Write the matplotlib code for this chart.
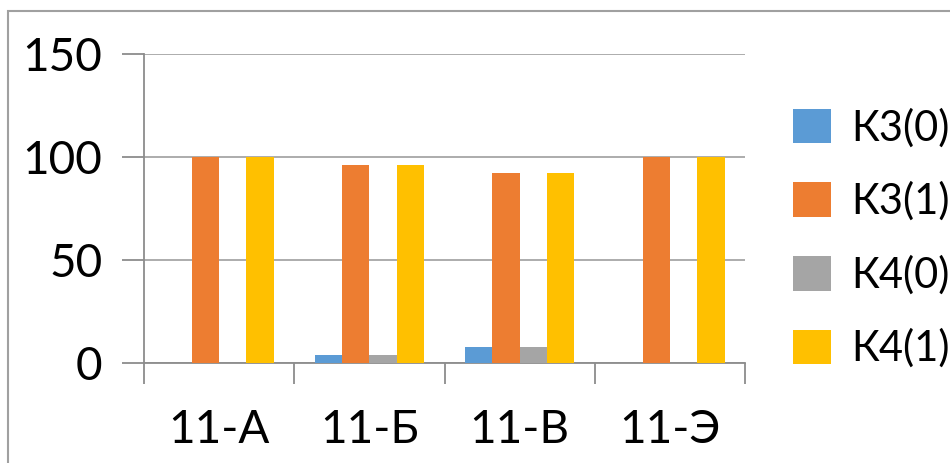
import matplotlib.pyplot as plt
import numpy as np
from matplotlib.patches import Rectangle

# dados
classes = ['11-А', '11-Б', '11-В', '11-Э']
series = ['К3(0)', 'К3(1)', 'К4(0)', 'К4(1)']
k3_0 = [0, 4, 8, 0]
k3_1 = [100, 96, 92, 100]
k4_0 = [0, 4, 8, 0]
k4_1 = [100, 96, 92, 100]
cores = ['#5b9bd5', '#ed7d31', '#a5a5a5', '#ffc000']

plt.rcParams['font.family'] = ['Lato', 'DejaVu Sans']

fig = plt.figure(figsize=(9.5, 4.63), dpi=100)
ax = fig.add_axes([144/950, 1 - 363/463, (745-144)/950, (363-54)/463])

x = np.arange(len(classes))
w = 0.182
valores = [k3_0, k3_1, k4_0, k4_1]
for i, (v, nome, c) in enumerate(zip(valores, series, cores)):
    ax.bar(x + (i - 1.5) * w, v, width=w, color=c, label=nome, zorder=3)

ax.set_xlim(-0.5, len(classes) - 0.5)
ax.set_ylim(0, 150)
ax.set_yticks([0, 50, 100, 150])
ax.set_xticks(x)
ax.set_xticklabels(classes)
ax.set_xticks(np.arange(-0.5, len(classes)), minor=True)
ax.tick_params(axis='x', which='major', length=0, labelsize=33, pad=33)
ax.tick_params(axis='x', which='minor', length=15, width=1.3, color='#8c8c8c')
ax.tick_params(axis='y', length=16, width=1.3, color='#8c8c8c', labelsize=33, pad=14)
ax.grid(axis='y', color='#a6a6a6', linewidth=1.3, zorder=0)
for s in ['top', 'right']:
    ax.spines[s].set_visible(False)
for s in ['left', 'bottom']:
    ax.spines[s].set_color('#8c8c8c')
    ax.spines[s].set_linewidth(1.3)

leg = fig.legend(loc='upper left', bbox_to_anchor=(793/950, 1 - 108/463),
                 frameon=False, fontsize=30, handlelength=0.9, handleheight=0.9,
                 handletextpad=0.5, labelspacing=0.82, borderaxespad=0,
                 borderpad=0)

# moldura do gráfico
fig.patches.append(Rectangle((8/950, -0.1), 1.1, 1 - 11/463 + 0.1,
                             transform=fig.transFigure, fill=False,
                             edgecolor='#a0a0a0', linewidth=1.5))

fig.savefig('out.png', dpi=100)
